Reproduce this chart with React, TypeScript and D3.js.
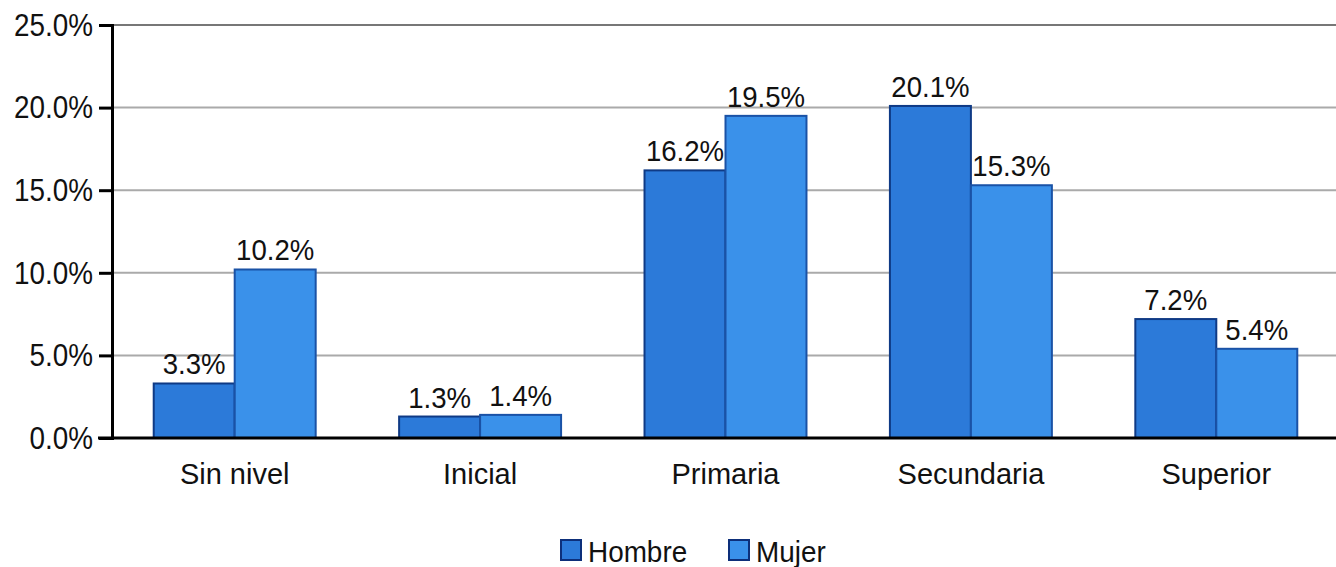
import * as d3 from 'd3';
import { useEffect, useRef } from 'react';

const categories = ['Sin nivel', 'Inicial', 'Primaria', 'Secundaria', 'Superior'];
const seriesNames = ['Hombre', 'Mujer'];
const hombre = [3.3, 1.3, 16.2, 20.1, 7.2];
const mujer = [10.2, 1.4, 19.5, 15.3, 5.4];
const yTicks = [0, 5, 10, 15, 20, 25];

const colors = ['#2c7ad9', '#3a91ea'];
const strokeColors = ['#0f3a85', '#1a52a6'];

export default function App() {
  const ref = useRef<SVGSVGElement | null>(null);

  useEffect(() => {
    if (!ref.current) return;
    const width = 1336;
    const height = 567;
    const margin = { top: 25, right: -3, bottom: 129, left: 112 };
    const innerH = height - margin.top - margin.bottom;

    const svg = d3.select(ref.current);
    svg.selectAll('*').remove();
    svg.attr('width', width).attr('height', height);

    const font = '"Liberation Sans", Arial, sans-serif';

    const x = d3
      .scaleBand()
      .domain(categories)
      .range([margin.left, width - margin.right])
      .paddingInner(0.34)
      .paddingOuter(0.17);
    const xs = d3.scaleBand().domain(seriesNames).range([0, x.bandwidth()]);
    const y = d3.scaleLinear().domain([0, 25]).range([margin.top + innerH, margin.top]);

    // grid lines
    svg
      .append('g')
      .selectAll('line')
      .data(yTicks.filter((t) => t > 0))
      .join('line')
      .attr('x1', margin.left)
      .attr('x2', width)
      .attr('y1', (d) => y(d))
      .attr('y2', (d) => y(d))
      .attr('stroke', (d) => (d === 25 ? '#777' : '#aaa'))
      .attr('stroke-width', 2);

    const rows = categories.map((c, i) => ({ c, vals: [hombre[i], mujer[i]] }));

    const groups = svg
      .append('g')
      .selectAll('g')
      .data(rows)
      .join('g')
      .attr('transform', (d) => `translate(${x(d.c)},0)`);

    groups
      .selectAll('rect')
      .data((d) => d.vals.map((v, k) => ({ v, k })))
      .join('rect')
      .attr('x', (d) => xs(seriesNames[d.k])!)
      .attr('y', (d) => y(d.v))
      .attr('width', xs.bandwidth())
      .attr('height', (d) => y(0) - y(d.v))
      .attr('fill', (d) => colors[d.k])
      .attr('stroke', (d) => strokeColors[d.k])
      .attr('stroke-width', 2);

    // value labels, slightly condensed
    groups
      .selectAll('text')
      .data((d) => d.vals.map((v, k) => ({ v, k })))
      .join('text')
      .attr(
        'transform',
        (d) =>
          `translate(${xs(seriesNames[d.k])! + xs.bandwidth() / 2},${y(d.v) - 9}) scale(0.92,1)`
      )
      .attr('text-anchor', 'middle')
      .attr('font-family', font)
      .attr('font-size', 30)
      .attr('fill', '#111')
      .text((d) => `${d.v.toFixed(1)}%`);

    // y axis
    const yAxis = svg
      .append('g')
      .attr('transform', `translate(${margin.left},0)`)
      .call(
        d3
          .axisLeft(y)
          .tickValues(yTicks)
          .tickSize(13)
          .tickPadding(6)
          .tickFormat((d) => `${(+d).toFixed(1)}%`)
      );
    yAxis.select('.domain').attr('stroke', '#000').attr('stroke-width', 3);
    yAxis.selectAll('.tick line').attr('stroke', '#000').attr('stroke-width', 3);
    yAxis
      .selectAll('.tick text')
      .attr('x', 0)
      .attr('transform', 'translate(-19,0) scale(0.87,1)')
      .attr('font-family', font)
      .attr('font-size', 32)
      .attr('fill', '#111');

    // x axis
    const xAxis = svg
      .append('g')
      .attr('transform', `translate(0,${y(0)})`)
      .call(d3.axisBottom(x).tickSize(0).tickPadding(25));
    xAxis
      .select('.domain')
      .attr('d', `M${margin.left - 14},0H${width}`)
      .attr('stroke', '#000')
      .attr('stroke-width', 3);
    xAxis
      .selectAll('.tick text')
      .attr('font-family', font)
      .attr('font-size', 29)
      .attr('fill', '#111');

    // legend
    const legendX = [561, 729];
    const legend = svg
      .append('g')
      .selectAll('g')
      .data(seriesNames)
      .join('g')
      .attr('transform', (_d, i) => `translate(${legendX[i]},540)`);
    legend
      .append('rect')
      .attr('width', 20)
      .attr('height', 20)
      .attr('fill', (_d, i) => colors[i])
      .attr('stroke', '#0d2f7a')
      .attr('stroke-width', 2);
    legend
      .append('text')
      .attr('transform', 'translate(27,22) scale(0.93,1)')
      .attr('font-family', font)
      .attr('font-size', 30)
      .attr('fill', '#111')
      .text((d) => d);
  }, []);

  return <svg ref={ref} style={{ position: 'absolute', left: 0, top: 0 }} />;
}
